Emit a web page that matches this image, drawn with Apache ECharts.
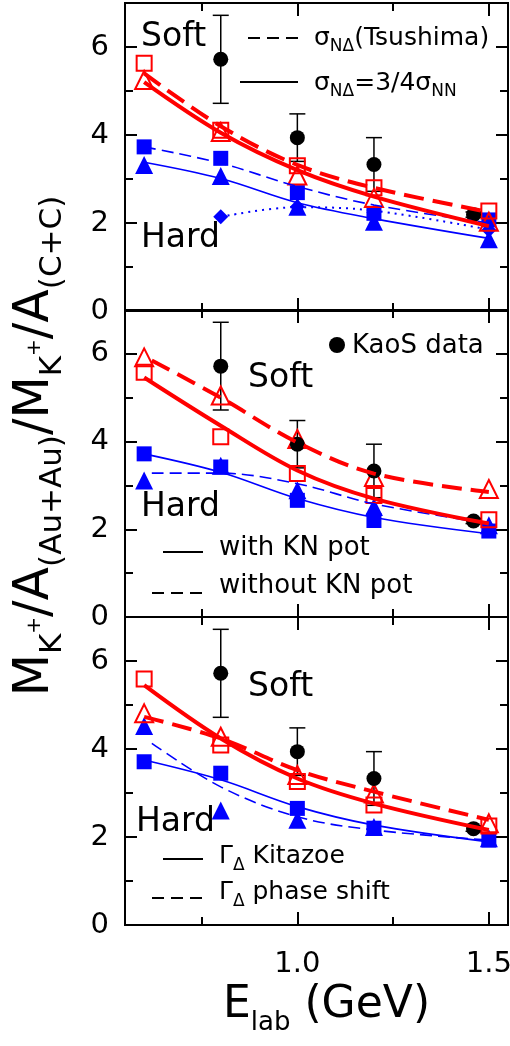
<!DOCTYPE html>
<html><head><meta charset="utf-8">
<script src="https://cdn.jsdelivr.net/npm/echarts@6/dist/echarts.min.js"></script>
<style>html,body{margin:0;padding:0;background:#fff}#c{width:510px;height:1046px}</style>
</head><body><div id="c"></div>
<script>
const FONT = 'DejaVu Sans';
// ---- tick values ----
const X_MAJOR = [1.0, 1.5];
const X_MINOR = [0.75, 1.25];
const Y_MAJOR = [0, 2, 4, 6];
const Y_MINOR = [1, 3, 5];
// ---- x positions ----
const X5 = [0.6, 0.8, 1.0, 1.2, 1.5];
const X_LATE = [0.62, 0.8, 1.0, 1.2, 1.5];
const X_DIAMOND = [0.8, 1.0, 1.2, 1.5];
// ---- KaoS data (same in all panels) ----
const kaosX = [0.8, 1.0, 1.2, 1.46];
const kaosY = [5.72, 3.94, 3.33, 2.19];
const kaosErr = [1.0, 0.54, 0.61, 0.06];
// ---- Panel 1: sigma N-Delta Tsushima (dashed) vs 3/4 sigma NN (solid) ----
const p1RedSquares = [5.63, 4.11, 3.30, 2.80, 2.27];
const p1RedTriangles = [5.25, 4.07, 3.08, 2.57, 2.03];
const p1BlueSquares = [3.73, 3.47, 2.69, 2.22, 2.07];
const p1BlueTriangles = [3.32, 3.07, 2.37, 2.03, 1.63];
const p1BlueDiamonds = [2.14, 2.37, 2.24, 1.84];
const p1RedDashed = [5.40, 4.20, 3.32, 2.80, 2.25];
const p1RedSolid = [5.20, 4.05, 3.20, 2.60, 1.93];
const p1BlueDashed = [3.73, 3.36, 2.83, 2.41, 2.00];
const p1BlueSolid = [3.38, 3.01, 2.46, 2.10, 1.65];
const p1BlueDotted = [2.14, 2.36, 2.28, 1.85];
// ---- Panel 2: with / without KN potential ----
const p2RedTriangles = [5.92, 5.05, 4.06, 3.19, 2.92];
const p2RedSquares = [5.58, 4.11, 3.27, 2.77, 2.22];
const p2BlueSquares = [3.72, 3.42, 2.66, 2.20, 1.96];
const p2BlueTriangles = [3.11, 3.45, 2.89, 2.51, 2.09];
const p2RedDashed = [5.85, 5.00, 3.98, 3.27, 2.85];
const p2RedSolid = [5.46, 4.36, 3.34, 2.70, 2.13];
const p2BlueSolid = [3.72, 3.30, 2.70, 2.27, 1.90];
const p2BlueDashed = [3.28, 3.28, 3.04, 2.58, 2.13];
// ---- Panel 3: Gamma Delta Kitazoe / phase shift ----
const p3RedSquares = [5.59, 4.09, 3.26, 2.73, 2.25];
const p3RedTriangles = [4.81, 4.28, 3.41, 2.99, 2.31];
const p3BlueSquares = [3.71, 3.45, 2.65, 2.20, 1.93];
const p3BlueTriangles = [4.52, 2.60, 2.39, 2.23, 1.97];
const p3RedSolid = [5.45, 4.24, 3.33, 2.76, 2.16];
const p3RedDashed = [4.73, 4.24, 3.52, 3.03, 2.39];
const p3BlueSolid = [3.75, 3.30, 2.69, 2.27, 1.89];
const p3BlueDashed = [4.13, 3.14, 2.46, 2.16, 1.93];

const RED = '#ff0000', BLUE = '#0000ff';
const zip = (xs, ys) => xs.map((x, i) => [x, ys[i]]);

const panels = [{top: 3, height: 308}, {top: 310, height: 307}, {top: 617, height: 308}];
const grid = panels.map(p => ({left: 125, right: 2, top: p.top, height: p.height, outerBoundsMode: 'none', containLabel: false}));

const tickStyle = {color: '#000', width: 2};
const axLine = {show: true, onZero: false, lineStyle: {color: '#000', width: 2}};
function xAx(g, pos, ticks, len, labels) {
  return {type: 'value', gridIndex: g, position: pos, min: 0.55, max: 1.55,
    axisLine: axLine, splitLine: {show: false},
    axisTick: {show: true, inside: true, length: len, customValues: ticks, lineStyle: tickStyle},
    axisLabel: labels ? {show: true, customValues: ticks, formatter: v => v.toFixed(1),
      fontSize: 29, fontFamily: FONT, color: '#000', margin: 25} : {show: false}};
}
function yAx(g, pos, ticks, len, labels) {
  return {type: 'value', gridIndex: g, position: pos, min: 0, max: 7,
    axisLine: axLine, splitLine: {show: false},
    axisTick: {show: true, inside: true, length: len, customValues: ticks, lineStyle: tickStyle},
    axisLabel: labels ? {show: true, customValues: ticks, formatter: v => String(v),
      fontSize: 29, fontFamily: FONT, color: '#000', margin: 16} : {show: false}};
}
const xAxis = [], yAxis = [];
for (let g = 0; g < 3; g++) {
  xAxis.push(xAx(g, 'bottom', X_MAJOR, 13, g === 2));
  xAxis.push(xAx(g, 'bottom', X_MINOR, 8, false));
  xAxis.push(xAx(g, 'top', X_MAJOR, 13, false));
  xAxis.push(xAx(g, 'top', X_MINOR, 8, false));
  yAxis.push(yAx(g, 'left', Y_MAJOR, 12, true));
  yAxis.push(yAx(g, 'left', Y_MINOR, 8, false));
  yAxis.push(yAx(g, 'right', Y_MAJOR, 12, false));
  yAxis.push(yAx(g, 'right', Y_MINOR, 8, false));
}

function lineS(g, xs, ys, color, width, type) {
  return {type: 'line', xAxisIndex: 4 * g, yAxisIndex: 4 * g, data: zip(xs, ys), smooth: 0.35,
    symbol: 'none', silent: true, lineStyle: {color, width, type, opacity: 1}};
}
function scat(g, xs, ys, symbol, size, color, open) {
  return {type: 'scatter', xAxisIndex: 4 * g, yAxisIndex: 4 * g, data: zip(xs, ys), symbol, symbolSize: size,
    silent: true,
    itemStyle: open ? {color: 'rgba(255,255,255,0)', borderColor: color, borderWidth: 2, opacity: 1}
                    : {color, opacity: 1}};
}
function errBars(g) {
  return {type: 'custom', xAxisIndex: 4 * g, yAxisIndex: 4 * g, silent: true,
    data: kaosX.map((x, i) => [x, kaosY[i] - kaosErr[i], kaosY[i] + kaosErr[i]]),
    renderItem(params, api) {
      const lo = api.coord([api.value(0), api.value(1)]);
      const hi = api.coord([api.value(0), api.value(2)]);
      const hw = 8, st = {stroke: '#000', lineWidth: 1.5};
      return {type: 'group', children: [
        {type: 'line', shape: {x1: lo[0], y1: lo[1], x2: hi[0], y2: hi[1]}, style: st},
        {type: 'line', shape: {x1: lo[0] - hw, y1: lo[1], x2: lo[0] + hw, y2: lo[1]}, style: st},
        {type: 'line', shape: {x1: hi[0] - hw, y1: hi[1], x2: hi[0] + hw, y2: hi[1]}, style: st}
      ]};
    }};
}
const DASH_RED = [20, 9], DASH_BLUE = [12, 6], DOT = [2, 5];
const TRI = 18, SQ = 15, SQO = 15;
const series = [
  // panel 1
  lineS(0, X5, p1BlueDashed, BLUE, 1.6, DASH_BLUE),
  lineS(0, X5, p1BlueSolid, BLUE, 1.6, 'solid'),
  lineS(0, X_DIAMOND, p1BlueDotted, BLUE, 2, DOT),
  scat(0, X5, p1BlueSquares, 'rect', SQ, BLUE, false),
  scat(0, X5, p1BlueTriangles, 'triangle', TRI, BLUE, false),
  scat(0, X_DIAMOND, p1BlueDiamonds, 'diamond', 15, BLUE, false),
  lineS(0, X5, p1RedDashed, RED, 4, DASH_RED),
  lineS(0, X5, p1RedSolid, RED, 4, 'solid'),
  scat(0, X5, p1RedSquares, 'rect', SQO, RED, true),
  scat(0, X5, p1RedTriangles, 'triangle', TRI, RED, true),
  errBars(0),
  scat(0, kaosX, kaosY, 'circle', 15, '#000', false),
  // panel 2
  lineS(1, X_LATE, p2BlueDashed, BLUE, 1.6, DASH_BLUE),
  lineS(1, X5, p2BlueSolid, BLUE, 1.6, 'solid'),
  scat(1, X5, p2BlueTriangles, 'triangle', TRI, BLUE, false),
  scat(1, X5, p2BlueSquares, 'rect', SQ, BLUE, false),
  lineS(1, X_LATE, p2RedDashed, RED, 4, DASH_RED),
  lineS(1, X5, p2RedSolid, RED, 4, 'solid'),
  scat(1, X5, p2RedSquares, 'rect', SQO, RED, true),
  scat(1, X5, p2RedTriangles, 'triangle', TRI, RED, true),
  errBars(1),
  scat(1, kaosX, kaosY, 'circle', 15, '#000', false),
  // panel 3
  lineS(2, X_LATE, p3BlueDashed, BLUE, 1.6, DASH_BLUE),
  lineS(2, X5, p3BlueSolid, BLUE, 1.6, 'solid'),
  scat(2, X5, p3BlueTriangles, 'triangle', TRI, BLUE, false),
  scat(2, X5, p3BlueSquares, 'rect', SQ, BLUE, false),
  lineS(2, X5, p3RedDashed, RED, 4, DASH_RED),
  lineS(2, X5, p3RedSolid, RED, 4, 'solid'),
  scat(2, X5, p3RedSquares, 'rect', SQO, RED, true),
  scat(2, X5, p3RedTriangles, 'triangle', TRI, RED, true),
  errBars(2),
  scat(2, kaosX, kaosY, 'circle', 15, '#000', false)
];

// ---- graphic texts ----
function txt(x, y, text, size, extra) {
  return Object.assign({type: 'text', x, y, z: 100, silent: true,
    style: {text, fill: '#000', fontFamily: FONT, fontSize: size, align: 'left', verticalAlign: 'middle'}}, extra || {});
}
function rtxt(x, y, text, rich, size, extra) {
  const e = txt(x, y, text, size, extra);
  e.style.rich = rich;
  return e;
}
const legRich = {
  m: {fontFamily: FONT, fontSize: 25, fill: '#000'},
  d: {fontFamily: FONT, fontSize: 17, fill: '#000', padding: [17, 0, 0, 0]}
};
const gamRich = {
  m: {fontFamily: FONT, fontSize: 25, fill: '#000'},
  d: {fontFamily: FONT, fontSize: 17, fill: '#000', padding: [20, 0, 0, 0]}
};
function seg(x1, x2, y, dash) {
  return {type: 'line', z: 100, silent: true, shape: {x1, y1: y, x2, y2: y},
    style: {stroke: '#000', lineWidth: 2, lineDash: dash || null}};
}
const yTitleRich = {
  m: {fontFamily: FONT, fontSize: 49, fill: '#000'},
  s: {fontFamily: FONT, fontSize: 31, fill: '#000', padding: [36, 0, 0, 0]},
  p: {fontFamily: FONT, fontSize: 20, fill: '#000'}
};
const xTitleRich = {
  m: {fontFamily: FONT, fontSize: 44, fill: '#000'},
  s: {fontFamily: FONT, fontSize: 26, fill: '#000', padding: [34, 0, 0, 0]}
};
const yTitle = rtxt(35, 446, '{m|M}{s|K}{p|+}{m|/A}{s|(Au+Au)}{m|/M}{s|K}{p|+}{m|/A}{s|(C+C)}', yTitleRich, 49,
  {rotation: Math.PI / 2});
yTitle.style.align = 'center';
const graphic = [
  // panel 1
  txt(141, 37, 'Soft', 33),
  txt(141, 238, 'Hard', 33),
  seg(248, 298, 38, [12, 7]),
  seg(240, 298, 82),
  rtxt(314, 38, '{m|σ}{d|NΔ}{m|(Tsushima)}', legRich, 25),
  rtxt(314, 83, '{m|σ}{d|NΔ}{m|=3/4σ}{d|NN}', legRich, 25),
  // panel 2
  {type: 'circle', z: 100, silent: true, shape: {cx: 337, cy: 345, r: 8}, style: {fill: '#000'}},
  txt(352, 346, 'KaoS data', 26),
  txt(248, 378, 'Soft', 33),
  txt(141, 507, 'Hard', 33),
  seg(163, 203, 552),
  seg(152, 203, 593, [12, 7]),
  txt(219, 548, 'with KN pot', 26),
  txt(219, 586, 'without KN pot', 26),
  // panel 3
  txt(248, 687, 'Soft', 33),
  txt(136, 822, 'Hard', 33),
  seg(163, 203, 859),
  seg(152, 203, 898, [12, 7]),
  rtxt(219, 856, '{m|Γ}{d|Δ}{m| Kitazoe}', gamRich, 26),
  rtxt(219, 892, '{m|Γ}{d|Δ}{m| phase shift}', gamRich, 26),
  // axis titles
  yTitle,
  rtxt(223, 1006, '{m|E}{s|lab}{m| (GeV)}', xTitleRich, 44)
];

const chart = echarts.init(document.getElementById('c'), null, {renderer: 'canvas'});
chart.setOption({animation: false, backgroundColor: '#fff', grid, xAxis, yAxis, series, graphic});
</script></body></html>
